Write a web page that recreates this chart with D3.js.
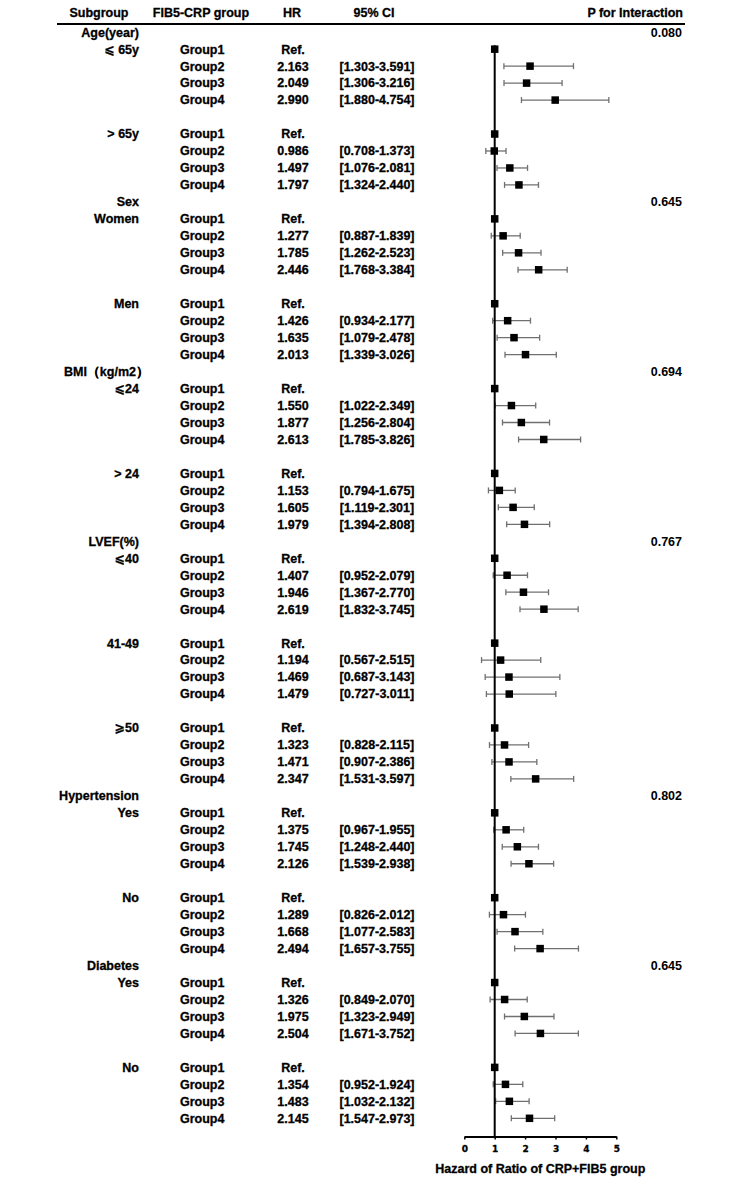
<!DOCTYPE html>
<html>
<head>
<meta charset="utf-8">
<script src="https://cdn.jsdelivr.net/npm/d3@7"></script>
<style>
  body { margin: 0; background: #fff; }
  svg text { font-family: "Liberation Sans", Arial, "DejaVu Sans", sans-serif; font-weight: bold; font-size: 12.5px; fill: #000; stroke: #000; stroke-width: 0.3px; }
  svg text.pval { stroke-width: 0; }
  .axis text { font-family: "DejaVu Sans", Verdana, sans-serif; font-size: 9px; }
</style>
</head>
<body>
<div id="chart"></div>
<script>
const categories = ['Age(year)', 'Sex', 'BMI（kg/m2）', 'LVEF(%)', 'Hypertension', 'Diabetes'];
const pValues = ['0.080', '0.645', '0.694', '0.767', '0.802', '0.645'];
const subgroupLabels = [
	['⩽ 65y', '> 65y'],
	['Women', 'Men'],
	['⩽24', '> 24'],
	['⩽40', '41-49', '⩾50'],
	['Yes', 'No'],
	['Yes', 'No']
];
const groupLabels = ['Group1', 'Group2', 'Group3', 'Group4'];

// Group2..Group4 per subgroup, Group1 is the reference
const hrValues = [
	[2.163, 2.049, 2.990], [0.986, 1.497, 1.797],
	[1.277, 1.785, 2.446], [1.426, 1.635, 2.013],
	[1.550, 1.877, 2.613], [1.153, 1.605, 1.979],
	[1.407, 1.946, 2.619], [1.194, 1.469, 1.479], [1.323, 1.471, 2.347],
	[1.375, 1.745, 2.126], [1.289, 1.668, 2.494],
	[1.326, 1.975, 2.504], [1.354, 1.483, 2.145]
];
const ciLower = [
	[1.303, 1.306, 1.880], [0.708, 1.076, 1.324],
	[0.887, 1.262, 1.768], [0.934, 1.079, 1.339],
	[1.022, 1.256, 1.785], [0.794, 1.119, 1.394],
	[0.952, 1.367, 1.832], [0.567, 0.687, 0.727], [0.828, 0.907, 1.531],
	[0.967, 1.248, 1.539], [0.826, 1.077, 1.657],
	[0.849, 1.323, 1.671], [0.952, 1.032, 1.547]
];
const ciUpper = [
	[3.591, 3.216, 4.754], [1.373, 2.081, 2.440],
	[1.839, 2.523, 3.384], [2.177, 2.478, 3.026],
	[2.349, 2.804, 3.826], [1.675, 2.301, 2.808],
	[2.079, 2.770, 3.745], [2.515, 3.143, 3.011], [2.115, 2.386, 3.597],
	[1.955, 2.440, 2.938], [2.012, 2.583, 3.755],
	[2.070, 2.949, 3.752], [1.924, 2.132, 2.973]
];
const xTicks = [0, 1, 2, 3, 4, 5];
const refValue = 1;

const W = 744, H = 1189;

const svg = d3.select('#chart').append('svg')
	.attr('width', W)
	.attr('height', H);

// flatten into table rows: category header, then 4 groups per subgroup with a gap between subgroups
let rows = [], idx = 0, sgIndex = 0;
categories.forEach((cat, c) => {
	rows.push({ row: idx++, type: 'cat', label: cat, p: pValues[c] });
	subgroupLabels[c].forEach((sg, s) => {
		if (s > 0) { idx++; }
		groupLabels.forEach((g, k) => {
			let r = { row: idx++, type: 'group', sub: k === 0 ? sg : null, group: g };
			if (k > 0) {
				r.hr = hrValues[sgIndex][k - 1];
				r.lo = ciLower[sgIndex][k - 1];
				r.hi = ciUpper[sgIndex][k - 1];
			} else {
				r.hr = refValue;
			}
			rows.push(r);
		});
		sgIndex++;
	});
});
const nRows = idx;

const y = d3.scaleLinear().domain([0, nRows - 1]).range([32.2, 1118.3]);
const x = d3.scaleLinear().domain([0, 5]).range([464.3, 616.3]);
const axisY = 1136.5;

const col = { sub: 139, group: 180, hr: 293, ci: 377, p: 682 };

// header
const header = svg.append('g');
header.append('text').attr('x', 99).attr('y', 13).attr('dy', '0.35em').attr('text-anchor', 'middle').text('Subgroup');
header.append('text').attr('x', 201).attr('y', 13).attr('dy', '0.35em').attr('text-anchor', 'middle').text('FIB5-CRP group');
header.append('text').attr('x', 292).attr('y', 13).attr('dy', '0.35em').attr('text-anchor', 'middle').text('HR');
header.append('text').attr('x', 374).attr('y', 13).attr('dy', '0.35em').attr('text-anchor', 'middle').text('95% CI');
header.append('text').attr('x', 683).attr('y', 13).attr('dy', '0.35em').attr('text-anchor', 'end').text('P for Interaction');
header.append('line')
	.attr('x1', 57).attr('x2', 685)
	.attr('y1', 24).attr('y2', 24)
	.attr('stroke', '#000').attr('stroke-width', 2);

const table = svg.append('g');

let catRows = rows.filter(r => r.type === 'cat');
table.selectAll('text.cat').data(catRows).enter().append('text')
	.attr('class', 'cat')
	.attr('x', d => col.sub + (d.label.indexOf('（') >= 0 ? 10 : 0))
	.attr('y', d => y(d.row))
	.attr('dy', '0.35em')
	.attr('text-anchor', 'end')
	.text(d => d.label);

table.selectAll('text.pval').data(catRows).enter().append('text')
	.attr('class', 'pval')
	.attr('x', col.p)
	.attr('y', d => y(d.row))
	.attr('dy', '0.35em')
	.attr('text-anchor', 'end')
	.text(d => d.p);

let groupRows = rows.filter(r => r.type === 'group');

table.selectAll('text.sub').data(groupRows.filter(r => r.sub)).enter().append('text')
	.attr('class', 'sub')
	.attr('x', col.sub)
	.attr('y', d => y(d.row))
	.attr('dy', '0.35em')
	.attr('text-anchor', 'end')
	.text(d => d.sub);

table.selectAll('text.grp').data(groupRows).enter().append('text')
	.attr('class', 'grp')
	.attr('x', col.group)
	.attr('y', d => y(d.row))
	.attr('dy', '0.35em')
	.text(d => d.group);

table.selectAll('text.hr').data(groupRows).enter().append('text')
	.attr('class', 'hr')
	.attr('x', col.hr)
	.attr('y', d => y(d.row))
	.attr('dy', '0.35em')
	.attr('text-anchor', 'middle')
	.text(d => d.lo == null ? 'Ref.' : d.hr.toFixed(3));

table.selectAll('text.ci').data(groupRows.filter(r => r.lo != null)).enter().append('text')
	.attr('class', 'ci')
	.attr('x', col.ci)
	.attr('y', d => y(d.row))
	.attr('dy', '0.35em')
	.attr('text-anchor', 'middle')
	.text(d => '[' + d.lo.toFixed(3) + '-' + d.hi.toFixed(3) + ']');

// forest plot
const plot = svg.append('g');

let ciRows = groupRows.filter(r => r.lo != null);
plot.selectAll('line.ci').data(ciRows).enter().append('line')
	.attr('x1', d => x(d.lo)).attr('x2', d => x(d.hi))
	.attr('y1', d => y(d.row)).attr('y2', d => y(d.row))
	.attr('stroke', '#707070').attr('stroke-width', 1.3);

['lo', 'hi'].forEach(k => {
	plot.selectAll('line.cap-' + k).data(ciRows).enter().append('line')
		.attr('x1', d => x(d[k])).attr('x2', d => x(d[k]))
		.attr('y1', d => y(d.row) - 3).attr('y2', d => y(d.row) + 3)
		.attr('stroke', '#707070').attr('stroke-width', 1.3);
});

plot.append('line')
	.attr('x1', x(refValue)).attr('x2', x(refValue))
	.attr('y1', y(1) - 4).attr('y2', axisY)
	.attr('stroke', '#000').attr('stroke-width', 2);

const ms = 7.5;
plot.selectAll('rect.pt').data(groupRows).enter().append('rect')
	.attr('x', d => x(d.hr) - ms / 2)
	.attr('y', d => y(d.row) - ms / 2)
	.attr('width', ms).attr('height', ms)
	.attr('fill', '#000');

// axis
const axis = svg.append('g')
	.attr('class', 'axis')
	.attr('transform', 'translate(0,' + axisY + ')')
	.call(d3.axisBottom(x).tickValues(xTicks).tickFormat(d3.format('d')).tickSize(3).tickSizeOuter(0).tickPadding(6));
axis.select('.domain').attr('stroke-width', 2);
axis.selectAll('.tick line').attr('stroke-width', 1.5);

svg.append('text')
	.attr('x', (x(0) + x(5)) / 2)
	.attr('y', 1169)
	.attr('dy', '0.35em')
	.attr('text-anchor', 'middle')
	.text('Hazard of Ratio of CRP+FIB5 group');
</script>
</body>
</html>
